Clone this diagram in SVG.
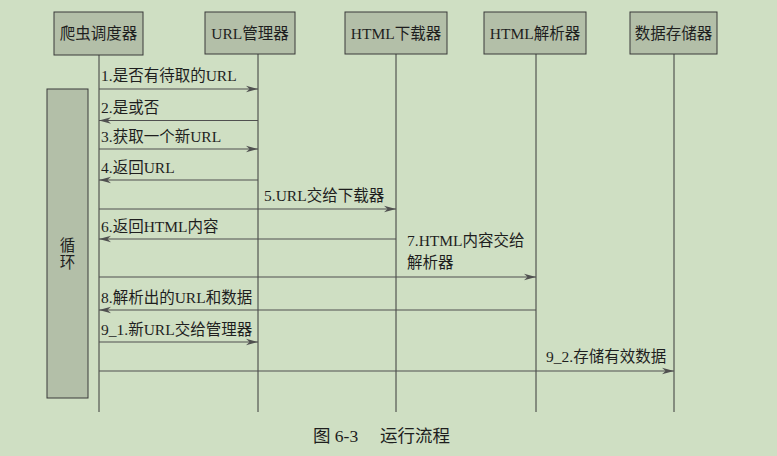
<svg xmlns="http://www.w3.org/2000/svg" width="777" height="456" viewBox="0 0 777 456">
<style>
.bg{fill:#cfdfc3}
.box{fill:#b3bfa8;stroke:#3a3a3a;stroke-width:1}
.life{stroke:#3a3a3a;stroke-width:1;fill:none}
.msg{stroke:#505050;stroke-width:1.2;fill:none}
.t{font-family:"Liberation Serif","Noto Sans CJK SC",serif;fill:#1e1e1e}
.bt{font-size:15.5px;text-anchor:middle}
.lt{font-size:15.5px}
</style>
<defs>
<marker id="ah" viewBox="0 0 12 8" refX="12" refY="4" markerWidth="12" markerHeight="8" markerUnits="userSpaceOnUse" orient="auto">
<path d="M0,0.8 L12,4 L0,7.2 L3.5,4 z" fill="#505050"/>
</marker>
</defs>
<rect class="bg" x="0" y="0" width="777" height="456"/>
<g id="lifelines">
<line class="life" x1="99" y1="55" x2="99" y2="412"/>
<line class="life" x1="258" y1="54" x2="258" y2="412"/>
<line class="life" x1="396" y1="54" x2="396" y2="412"/>
<line class="life" x1="536" y1="54" x2="536" y2="412"/>
<line class="life" x1="674" y1="54" x2="674" y2="412"/>
</g>
<g id="n1"><rect class="box" x="54" y="12" width="89" height="43"/><text class="t bt" x="98.5" y="39">爬虫调度器</text></g>
<g id="n2"><rect class="box" x="205" y="12" width="90" height="42"/><text class="t bt" x="250" y="39">URL管理器</text></g>
<g id="n3"><rect class="box" x="345" y="12" width="102" height="42"/><text class="t bt" x="396" y="39">HTML下载器</text></g>
<g id="n4"><rect class="box" x="484" y="12" width="102" height="42"/><text class="t bt" x="535" y="39">HTML解析器</text></g>
<g id="n5"><rect class="box" x="630" y="12" width="87" height="42"/><text class="t bt" x="673.5" y="39">数据存储器</text></g>
<g id="loop"><rect class="box" x="47" y="89" width="41" height="309"/><text class="t" font-size="15.5" x="67.5" y="251" text-anchor="middle">循</text><text class="t" font-size="15.5" x="67.5" y="268" text-anchor="middle">环</text></g>
<g id="connectors">
<line class="msg" x1="99" y1="89" x2="258" y2="89" marker-end="url(#ah)"/>
<line class="msg" x1="258" y1="120.5" x2="99" y2="120.5" marker-end="url(#ah)"/>
<line class="msg" x1="99" y1="149" x2="258" y2="149" marker-end="url(#ah)"/>
<line class="msg" x1="258" y1="180" x2="99" y2="180" marker-end="url(#ah)"/>
<line class="msg" x1="99" y1="209" x2="396" y2="209" marker-end="url(#ah)"/>
<line class="msg" x1="396" y1="239" x2="99" y2="239" marker-end="url(#ah)"/>
<line class="msg" x1="99" y1="277" x2="536" y2="277" marker-end="url(#ah)"/>
<line class="msg" x1="536" y1="310" x2="99" y2="310" marker-end="url(#ah)"/>
<line class="msg" x1="99" y1="342" x2="258" y2="342" marker-end="url(#ah)"/>
<line class="msg" x1="99" y1="371" x2="674" y2="371" marker-end="url(#ah)"/>
</g>
<g id="labels">
<text class="t lt" x="101" y="81">1.是否有待取的URL</text>
<text class="t lt" x="101" y="113">2.是或否</text>
<text class="t lt" x="101" y="142">3.获取一个新URL</text>
<text class="t lt" x="101" y="173">4.返回URL</text>
<text class="t lt" x="264" y="201">5.URL交给下载器</text>
<text class="t lt" x="101" y="232">6.返回HTML内容</text>
<text class="t lt" x="407" y="246">7.HTML内容交给</text>
<text class="t lt" x="407" y="268">解析器</text>
<text class="t lt" x="101" y="303">8.解析出的URL和数据</text>
<text class="t lt" x="101" y="335">9_1.新URL交给管理器</text>
<text class="t lt" x="546" y="362">9_2.存储有效数据</text>
</g>
<g id="caption">
<text class="t" font-size="17.5" x="313" y="442">图 6-3</text>
<text class="t" font-size="17.5" x="380" y="442">运行流程</text>
</g>
</svg>
